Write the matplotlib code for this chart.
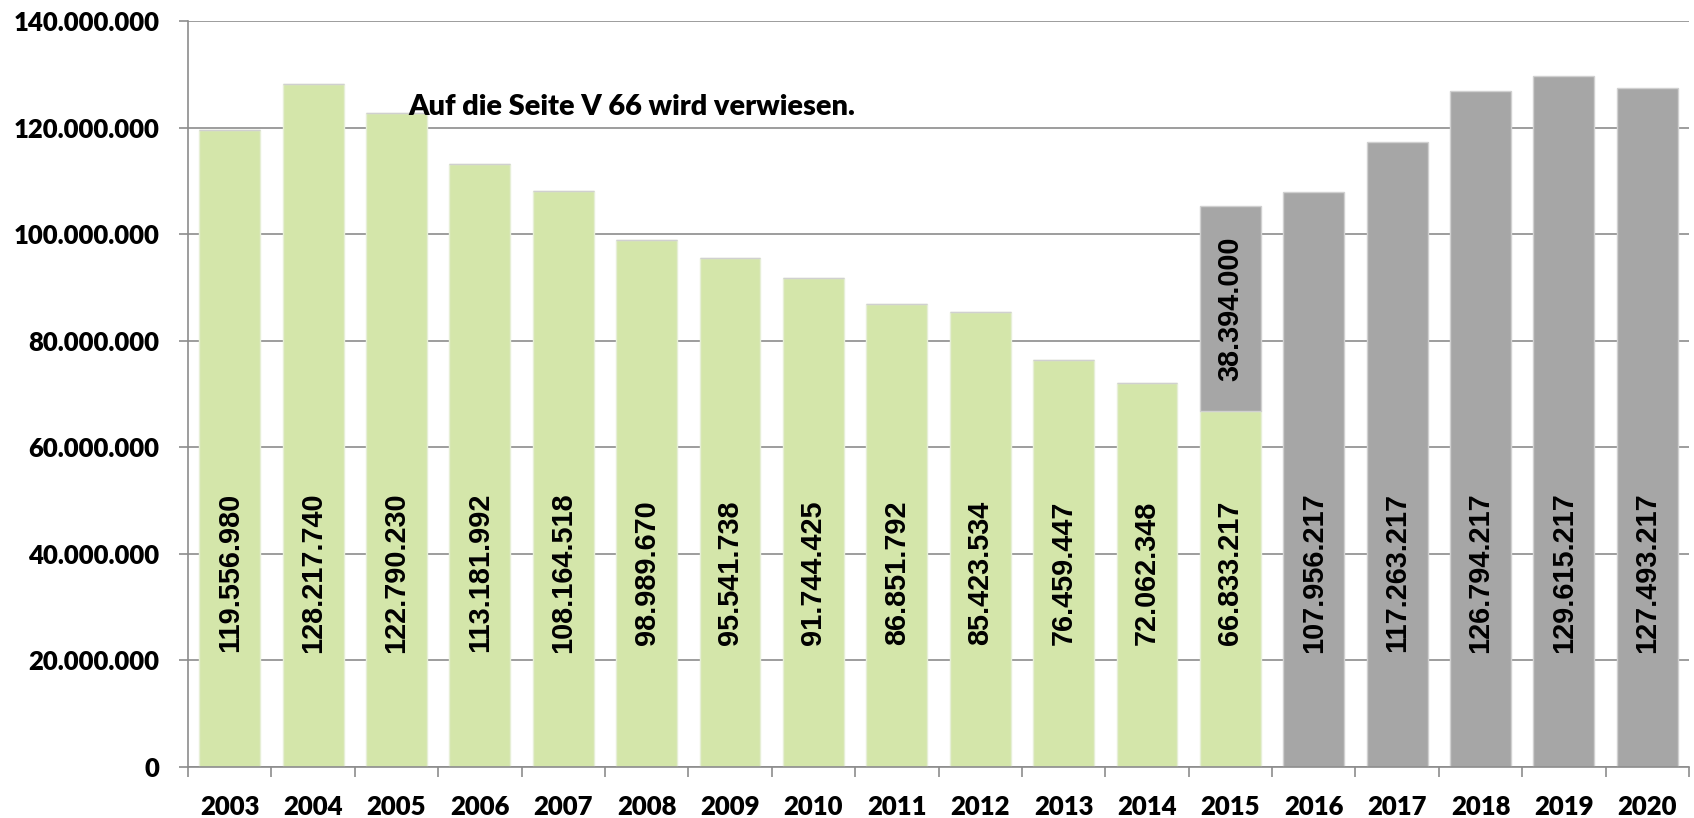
import matplotlib
matplotlib.use("Agg")
import matplotlib.pyplot as plt
from matplotlib.ticker import FuncFormatter, FixedLocator
import numpy as np

years = ["2003", "2004", "2005", "2006", "2007", "2008", "2009", "2010", "2011",
         "2012", "2013", "2014", "2015", "2016", "2017", "2018", "2019", "2020"]
green_vals = [119556980, 128217740, 122790230, 113181992, 108164518, 98989670,
              95541738, 91744425, 86851792, 85423534, 76459447, 72062348,
              66833217, 0, 0, 0, 0, 0]
gray_vals = [0, 0, 0, 0, 0, 0, 0, 0, 0, 0, 0, 0,
             38394000, 107956217, 117263217, 126794217, 129615217, 127493217]
note = "Auf die Seite V 66 wird verwiesen."

def fmt(v):
    return f"{int(v):,}".replace(",", ".")

fig = plt.figure(figsize=(16.94, 8.18), dpi=100)
ax = fig.add_axes([188/1694, 1-767/818, (1689-188)/1694, (767-21)/818])

x = np.arange(len(years))
gv = np.array(green_vals, dtype=float)
rv = np.array(gray_vals, dtype=float)
W = 0.73
green_c = "#D4E6AA"
gray_c = "#A6A6A6"

ax.set_axisbelow(True)
ax.yaxis.grid(True, color="#8C8C8C", linewidth=1.2)
ax.bar(x, gv, width=W, color=green_c, edgecolor="#E6EFD6", linewidth=1.0, zorder=2)
ax.bar(x, rv, width=W, bottom=gv, color=gray_c, edgecolor="#D0D0D0", linewidth=1.0, zorder=2)

lab_font = dict(family="Liberation Sans", weight="bold", size=20.8)
label_y = 36.5e6
for i in range(len(years)):
    if gv[i] > 0:
        ax.text(x[i], label_y, fmt(gv[i]), rotation=90, ha="center", va="center",
                zorder=3, **lab_font)
    if rv[i] > 0:
        if gv[i] > 0:
            yy = gv[i] + rv[i] / 2
        else:
            yy = label_y
        ax.text(x[i], yy, fmt(rv[i]), rotation=90, ha="center", va="center",
                zorder=3, **lab_font)

ax.text(2.14, 122.3e6, note, ha="left", va="baseline", fontsize=20.8,
        fontfamily="Lato", fontweight="heavy", zorder=4)

ax.set_xlim(-0.5, len(years) - 0.5)
ax.set_ylim(0, 140e6)
ax.set_yticks(np.arange(0, 140e6 + 1, 20e6))
ax.yaxis.set_major_formatter(FuncFormatter(lambda v, p: fmt(v)))

ax.set_xticks(x)
ax.set_xticklabels(years)
ax.xaxis.set_minor_locator(FixedLocator(np.arange(-0.5, len(years), 1.0)))
ax.tick_params(axis="x", which="major", length=0, pad=20)
ax.tick_params(axis="x", which="minor", length=7.5, width=1.2, color="#8C8C8C")
ax.tick_params(axis="y", which="major", length=6.5, width=1.2, color="#8C8C8C", pad=14)

for lab in ax.get_xticklabels() + ax.get_yticklabels():
    lab.set_fontfamily("Lato")
    lab.set_fontweight("heavy")
    lab.set_fontsize(18.5)

for s in ["top", "right"]:
    ax.spines[s].set_visible(False)
for s in ["left", "bottom"]:
    ax.spines[s].set_color("#8C8C8C")
    ax.spines[s].set_linewidth(1.2)

fig.savefig("out.png", dpi=100)
